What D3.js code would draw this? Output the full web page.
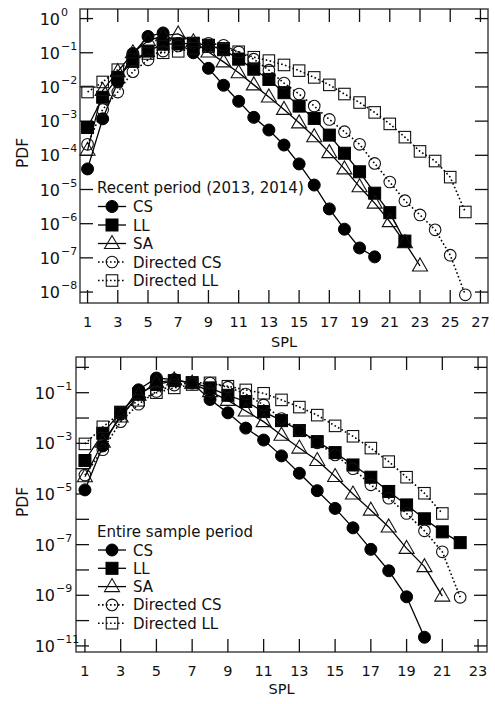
<!DOCTYPE html>
<html><head><meta charset="utf-8">
<script src="https://cdn.jsdelivr.net/npm/d3@7"></script>
<style>
html,body{margin:0;padding:0;background:#fff;}
svg text{font-family:"DejaVu Sans",sans-serif;fill:#111;}
</style></head>
<body><svg id="c" width="495" height="704"></svg>
<script>
// ---------- DATA ----------
const seriesNames = ["CS","LL","SA","Directed CS","Directed LL"];
const xTicksTop = [1,3,5,7,9,11,13,15,17,19,21,23,25,27];
const xTicksBottom = [1,3,5,7,9,11,13,15,17,19,21,23];
const yExpTop = [0,-1,-2,-3,-4,-5,-6,-7,-8];
const yExpBottomTicks = [0,-1,-2,-3,-4,-5,-6,-7,-8,-9,-10,-11];
const yExpBottomLabels = [-1,-3,-5,-7,-9,-11];

// Recent period (2013, 2014)
const recentCS  = [4.0e-5,1.17e-3,1.4e-2,9.5e-2,0.30,0.38,0.186,0.10,3.5e-2,1.12e-2,3.8e-3,1.29e-3,5.5e-4,2.0e-4,5.6e-5,1.35e-5,2.7e-6,6.9e-7,1.95e-7,1.07e-7];
const recentLL  = [6.5e-4,5.0e-3,1.9e-2,5.6e-2,0.112,0.178,0.182,0.19,0.166,0.123,6.5e-2,3.3e-2,1.66e-2,6.8e-3,2.75e-3,1.2e-3,3.9e-4,1.15e-4,3.3e-5,7.8e-6,2.1e-6,3.1e-7];
const recentSA  = [1.4e-4,7.9e-3,2.8e-2,1.0e-1,0.224,0.316,0.355,0.209,0.105,5.4e-2,2.6e-2,1.15e-2,5.1e-3,2.2e-3,8.9e-4,3.5e-4,1.2e-4,4.0e-5,1.2e-5,4.0e-6,1.15e-6,2.8e-7,5.8e-8];
const recentDCS = [2.1e-4,2.2e-3,7.1e-3,2.8e-2,6.2e-2,0.112,0.158,0.19,0.19,0.166,0.105,6.5e-2,3.1e-2,1.3e-2,6.2e-3,2.75e-3,1.12e-3,4.9e-4,2.1e-4,5.8e-5,1.66e-5,4.7e-6,1.8e-6,6.6e-7,1.2e-7,8.3e-9];
const recentDLL = [7.1e-3,1.4e-2,3.2e-2,6.3e-2,9.5e-2,0.1,0.11,0.135,0.15,0.135,0.107,7.4e-2,5.9e-2,4.4e-2,3.0e-2,1.9e-2,1.15e-2,6.2e-3,3.5e-3,1.8e-3,8.3e-4,3.4e-4,1.3e-4,6.8e-5,2.3e-5,2.2e-6];

// Entire sample period
const entireCS  = [1.45e-5,7.9e-4,1.4e-2,0.13,0.38,0.33,0.24,5.4e-2,1.6e-2,4.0e-3,1.35e-3,3.2e-4,6.6e-5,1.35e-5,2.7e-6,4.6e-7,6.5e-8,9.3e-9,8.7e-10,2.2e-11];
const entireLL  = [2.1e-4,2.5e-3,1.7e-2,8.9e-2,0.21,0.30,0.25,0.155,7.9e-2,4.5e-2,1.8e-2,7.9e-3,3.2e-3,1.17e-3,4.3e-4,1.4e-4,4.6e-5,1.26e-5,3.7e-6,1.05e-6,3.2e-7,1.2e-7];
const entireSA  = [4.8e-5,1.1e-3,1.1e-2,7.9e-2,0.25,0.32,0.24,0.11,5.0e-2,1.9e-2,7.2e-3,2.1e-3,6.5e-4,2.1e-4,4.9e-5,1.0e-5,2.3e-6,5.0e-7,7.1e-8,1.35e-8,9.3e-10];
const entireDCS = [5.6e-5,5.6e-4,7.2e-3,3.5e-2,0.112,0.2,0.25,0.24,0.166,8.9e-2,3.3e-2,9.5e-3,3.2e-3,1.05e-3,3.5e-4,1.0e-4,2.3e-5,6.8e-6,1.7e-6,3.5e-7,5.2e-8,8.3e-10];
const entireDLL = [9.5e-4,4.5e-3,1.6e-2,5.0e-2,0.1,0.155,0.21,0.245,0.18,0.129,9.5e-2,5.2e-2,2.7e-2,1.3e-2,4.9e-3,1.9e-3,6.5e-4,1.9e-4,4.6e-5,1.07e-5,1.7e-6];

// ---------- STYLE ----------
const styles = [
  {marker:"circle",  fill:true,  dash:null},
  {marker:"square",  fill:true,  dash:null},
  {marker:"triangle",fill:false, dash:null},
  {marker:"circle",  fill:false, dash:"1.6,2.4"},
  {marker:"square",  fill:false, dash:"1.6,2.4"}
];

const svg = d3.select("#c");

function drawMarker(g, type, filled, cx, cy){
  let el;
  if(type==="circle"){
    el = g.append("circle").attr("cx",cx).attr("cy",cy).attr("r",filled?6:5.8);
  } else if(type==="square"){
    const s = filled?12:11.5;
    el = g.append("rect").attr("x",cx-s/2).attr("y",cy-s/2).attr("width",s).attr("height",s);
  } else {
    el = g.append("path").attr("d",`M${cx},${cy-8}L${cx+7.5},${cy+5}L${cx-7.5},${cy+5}Z`);
  }
  if(filled) el.attr("fill","#000").attr("stroke","#000").attr("stroke-width",1);
  else el.attr("fill","none").attr("stroke","#111").attr("stroke-width",1.1);
}

function panel(cfg){
  const x = d3.scaleLinear().domain(cfg.xDomain).range([cfg.left,cfg.right]);
  const y = d3.scaleLog().domain(cfg.yDomain).range([cfg.top,cfg.bottom]);
  const g = svg.append("g");
  const tl = 13;

  g.append("rect").attr("x",cfg.left).attr("y",cfg.top)
    .attr("width",cfg.right-cfg.left).attr("height",cfg.bottom-cfg.top)
    .attr("fill","none").attr("stroke","#444").attr("stroke-width",1.5);

  const ax = g.append("g").attr("stroke","#111").attr("stroke-width",1.3);
  cfg.xTicks.forEach(t=>{
    ax.append("line").attr("x1",x(t)).attr("x2",x(t)).attr("y1",cfg.bottom).attr("y2",cfg.bottom-tl);
    ax.append("line").attr("x1",x(t)).attr("x2",x(t)).attr("y1",cfg.top).attr("y2",cfg.top+tl);
  });
  cfg.yTicks.forEach(e=>{
    const v = Math.pow(10,e);
    ax.append("line").attr("y1",y(v)).attr("y2",y(v)).attr("x1",cfg.left).attr("x2",cfg.left+tl);
    ax.append("line").attr("y1",y(v)).attr("y2",y(v)).attr("x1",cfg.right).attr("x2",cfg.right-tl);
  });
  cfg.xTicks.forEach(t=>{
    g.append("text").attr("x",x(t)).attr("y",cfg.bottom+24).attr("text-anchor","middle")
      .attr("font-size",14.5).text(t);
  });
  cfg.yLabels.forEach(e=>{
    const v = Math.pow(10,e);
    g.append("text").attr("x",cfg.labelX).attr("y",y(v)+6).attr("font-size",16).attr("text-anchor","end").text("10");
    g.append("text").attr("x",cfg.labelX+1).attr("y",y(v)-3).attr("font-size",11)
      .text(e===0?"0":"\u2212"+(-e));
  });
  g.append("text").attr("x",(cfg.left+cfg.right)/2).attr("y",cfg.bottom+cfg.xTitleDy)
    .attr("text-anchor","middle").attr("font-size",14.5).text("SPL");
  g.append("text").attr("transform",`translate(28,${cfg.pdfY}) rotate(-90)`)
    .attr("text-anchor","middle").attr("font-size",15.5).text("PDF");

  const line = d3.line().x(d=>x(d[0])).y(d=>y(d[1]));
  cfg.series.forEach((arr,i)=>{
    const st = styles[i];
    const pts = arr.map((v,k)=>[k+1,v]);
    g.append("path").attr("d",line(pts)).attr("fill","none").attr("stroke","#000")
      .attr("stroke-width",st.dash?1.6:1.3).attr("stroke-dasharray",st.dash);
    const mg = g.append("g");
    pts.forEach(p=>drawMarker(mg,st.marker,st.fill,x(p[0]),y(p[1])));
  });

  const lg = g.append("g");
  lg.append("text").attr("x",cfg.legX).attr("y",cfg.legTitleY).attr("font-size",15).text(cfg.legTitle);
  seriesNames.forEach((n,i)=>{
    const st = styles[i];
    const cy = cfg.legY0 + i*cfg.legDy;
    lg.append("line").attr("x1",cfg.legX+1).attr("x2",cfg.legX+29).attr("y1",cy).attr("y2",cy)
      .attr("stroke","#000").attr("stroke-width",st.dash?1.6:1.3).attr("stroke-dasharray",st.dash);
    drawMarker(lg,st.marker,st.fill,cfg.legX+15,cy);
    lg.append("text").attr("x",cfg.legX+36).attr("y",cy+5.5).attr("font-size",15).text(n);
  });
}

panel({
  left:80,right:488,top:9,bottom:303,
  xDomain:[0.5,27.5], yDomain:[Math.pow(10,0.28),Math.pow(10,-8.32)],
  xTicks:xTicksTop, yTicks:yExpTop, yLabels:yExpTop, labelX:60,
  xTitleDy:44, pdfY:153,
  series:[recentCS,recentLL,recentSA,recentDCS,recentDLL],
  legX:97, legTitleY:193, legTitle:"Recent period (2013, 2014)", legY0:206.5, legDy:18.5
});
panel({
  left:76,right:487,top:357,bottom:652,
  xDomain:[0.5,23.5], yDomain:[Math.pow(10,0.41),Math.pow(10,-11.24)],
  xTicks:xTicksBottom, yTicks:yExpBottomTicks, yLabels:yExpBottomLabels, labelX:55,
  xTitleDy:42, pdfY:502,
  series:[entireCS,entireLL,entireSA,entireDCS,entireDLL],
  legX:97, legTitleY:537, legTitle:"Entire sample period", legY0:550, legDy:18.3
});
</script></body></html>
